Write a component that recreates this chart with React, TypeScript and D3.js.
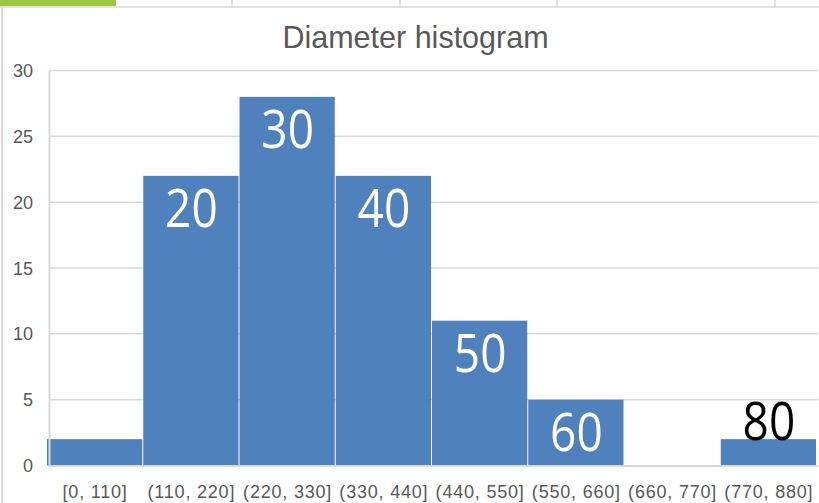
import React from "react";
import * as d3 from "d3";

const categories = ["[0, 110]", "(110, 220]", "(220, 330]", "(330, 440]", "(440, 550]", "(550, 660]", "(660, 770]", "(770, 880]"];
const counts = [2, 22, 28, 22, 11, 5, 0, 2];
const barLabels = ["", "20", "30", "40", "50", "60", "", "80"];
const yTicks = [0, 5, 10, 15, 20, 25, 30];
const title = "Diameter histogram";

const W = 819;
const H = 503;
const GRID = "#d9d9d9";
const TEXT = "#595959";
const BAR = "#4f81bd";

export default function App() {
  const x = d3.scaleBand<string>().domain(categories).range([47, 817]).padding(0);
  const y = d3.scaleLinear().domain([0, 30]).range([465.5, 70.5]);
  const bw = x.bandwidth();
  const font = "'Liberation Sans', Arial, sans-serif";

  return (
    <svg width={W} height={H} style={{ position: "absolute", left: 0, top: 0, background: "#fff" }}>
      <rect x={0} y={0} width={W} height={H} fill="#fff" />
      {/* header strip */}
      <rect x={0} y={0} width={116} height={6} fill="#9bc847" />
      <line x1={0} x2={W} y1={7} y2={7} stroke={GRID} strokeWidth={1.5} />
      {[232, 400, 557, 775].map((sx) => (
        <line key={sx} x1={sx} x2={sx} y1={0} y2={7} stroke={GRID} strokeWidth={1.5} />
      ))}
      <line x1={2} x2={2} y1={7} y2={H} stroke={GRID} strokeWidth={2} />

      <text x={415.5} y={48} textAnchor="middle" fontFamily={font} fontSize={30.5} fill={TEXT}>
        {title}
      </text>

      {/* gridlines */}
      {yTicks.filter((t) => t > 0).map((t) => (
        <line key={t} x1={49} x2={818} y1={y(t)} y2={y(t)} stroke={GRID} strokeWidth={1.5} />
      ))}

      {/* bars */}
      {categories.map((c, i) => (
        counts[i] > 0 ? (
          <rect key={c} x={x(c)!} y={y(counts[i])} width={bw - 1} height={y(0) - y(counts[i])} fill={BAR} />
        ) : null
      ))}

      {/* axes */}
      <line x1={49.5} x2={49.5} y1={70} y2={466.5} stroke={GRID} strokeWidth={2} />
      <line x1={49} x2={818} y1={466} y2={466} stroke={GRID} strokeWidth={2} />

      {yTicks.map((t) => (
        <text key={t} x={33} y={y(t) + 6.5} textAnchor="end" fontFamily={font} fontSize={18} fill={TEXT}>
          {t}
        </text>
      ))}

      {categories.map((c) => (
        <text key={c} x={x(c)! + bw / 2} y={498} textAnchor="middle" fontFamily={font} fontSize={18} letterSpacing={0.8} fill={TEXT}>
          {c}
        </text>
      ))}

      {/* bar labels */}
      {categories.map((c, i) => {
        const lab = barLabels[i];
        if (!lab) return null;
        const top = y(counts[i]);
        const inside = y(0) - top > 50;
        const cx = x(c)! + bw / 2;
        const by = inside ? top + 51 : top + 1;
        return (
          <g key={"l" + c} transform={`translate(${cx},${by}) scale(1,1.16)`}>
            <text
              x={0}
              y={0}
              textAnchor="middle"
              fontFamily="'Open Sans', sans-serif"
              fontSize={46}
              fill={inside ? "#fff" : "#000"}
            >
              {lab}
            </text>
          </g>
        );
      })}
    </svg>
  );
}
